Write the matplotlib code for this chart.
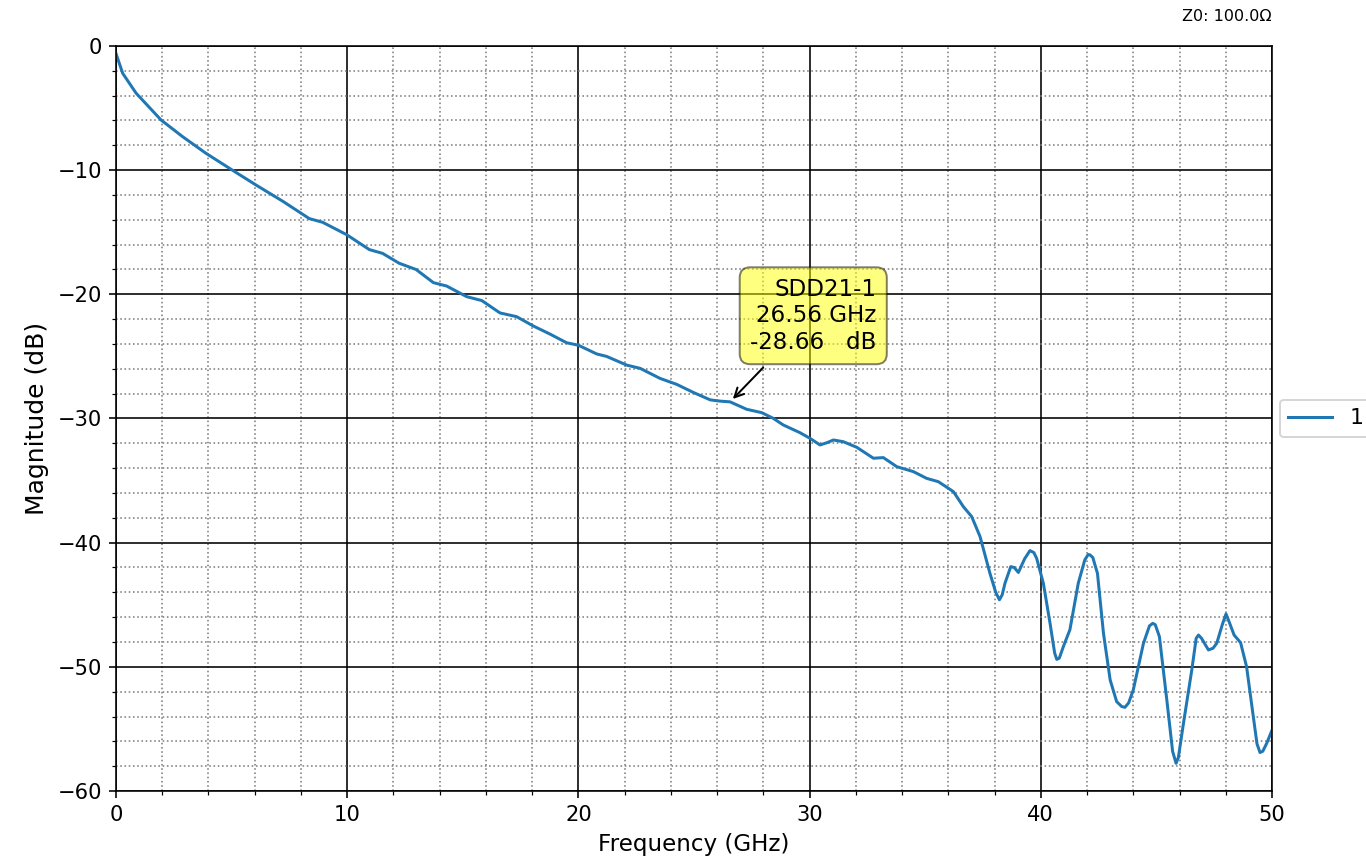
import matplotlib
matplotlib.use("Agg")
import matplotlib.pyplot as plt
from matplotlib.ticker import MultipleLocator

# SDD21 magnitude
freq_ghz = [0.0, 0.29, 0.87, 1.95, 2.88, 3.89, 5.12, 6.06, 7.21, 8.36, 8.94, 9.98,
            10.96, 11.53, 12.25, 12.98, 13.73, 14.3, 15.17, 15.82, 16.61, 17.33,
            18.05, 18.77, 19.49, 20.0, 20.79, 21.22, 22.09, 22.67, 23.53, 24.25,
            24.97, 25.7, 26.12, 26.56, 27.28, 27.93, 28.43, 28.86, 29.58, 30.02,
            30.45, 30.75, 31.03, 31.46, 32.04, 32.76, 33.19, 33.77, 34.49, 35.06,
            35.57, 36.22, 36.65, 37.01, 37.37, 37.8, 38.05, 38.21, 38.33, 38.45,
            38.7, 38.85, 39.03, 39.3, 39.53, 39.7, 39.82, 40.11, 40.4, 40.6,
            40.69, 40.8, 40.97, 41.26, 41.62, 41.9, 42.05, 42.13, 42.25, 42.45,
            42.71, 43.0, 43.28, 43.5, 43.64, 43.8, 44.0, 44.44, 44.7, 44.84,
            44.95, 45.13, 45.45, 45.7, 45.85, 45.95, 46.17, 46.53, 46.72, 46.82,
            46.95, 47.25, 47.45, 47.61, 47.85, 48.01, 48.15, 48.36, 48.64, 48.9,
            49.19, 49.35, 49.48, 49.6, 49.77, 50.0]
mag_db = [-0.6, -2.2, -3.8, -5.96, -7.3, -8.64, -10.1, -11.2, -12.5, -13.9, -14.2, -15.2,
          -16.4, -16.7, -17.5, -18.0, -19.06, -19.33, -20.19, -20.5, -21.5, -21.8,
          -22.55, -23.2, -23.9, -24.1, -24.8, -25.0, -25.7, -25.96, -26.77, -27.25,
          -27.9, -28.5, -28.6, -28.66, -29.26, -29.53, -29.99, -30.52, -31.14, -31.6,
          -32.13, -31.95, -31.73, -31.87, -32.32, -33.2, -33.15, -33.88, -34.28, -34.82,
          -35.09, -35.89, -37.1, -37.9, -39.5, -42.47, -44.0, -44.6, -44.2, -43.27,
          -41.93, -42.0, -42.4, -41.3, -40.64, -40.8, -41.26, -43.27, -46.5, -48.9,
          -49.4, -49.3, -48.4, -47.0, -43.27, -41.4, -40.95, -40.99, -41.2, -42.47,
          -47.3, -51.06, -52.8, -53.2, -53.26, -52.9, -51.86, -48.1, -46.7, -46.5,
          -46.6, -47.57, -52.67, -56.8, -57.77, -57.3, -54.55, -50.25, -47.7, -47.44,
          -47.7, -48.64, -48.5, -48.1, -46.6, -45.74, -46.4, -47.44, -48.05, -49.99,
          -54.0, -56.2, -56.9, -56.8, -56.16, -55.1]

marker_f = 26.56
marker_db = -28.66

fig = plt.figure(figsize=(1366 / 144, 866 / 144), dpi=144)
ax = fig.add_axes([0.0849, 0.0866, 0.8463, 0.8603])

ax.plot(freq_ghz, mag_db, color='#1f77b4', linewidth=1.5, label='1')

ax.set_xlim(0, 50)
ax.set_ylim(-60, 0)
ax.xaxis.set_major_locator(MultipleLocator(10))
ax.xaxis.set_minor_locator(MultipleLocator(2))
ax.yaxis.set_major_locator(MultipleLocator(10))
ax.yaxis.set_minor_locator(MultipleLocator(2))
ax.tick_params(which='major', labelsize=10.5)
ax.grid(which='major', color='black', linestyle='-', linewidth=0.8)
ax.grid(which='minor', color='0.5', linestyle=':', linewidth=0.8)
ax.set_xlabel('Frequency (GHz)', fontsize=11.5)
ax.set_ylabel('Magnitude (dB)', fontsize=12.5)

ax.text(1.0, 1.03, 'Z0: 100.0\u03a9', transform=ax.transAxes,
        ha='right', va='bottom', fontsize=8)

ax.annotate('SDD21-1\n%.2f GHz\n%.2f   dB' % (marker_f, marker_db),
            xy=(marker_f, marker_db), xytext=(10, 24), textcoords='offset points',
            ha='left', va='bottom', multialignment='right', fontsize=11.5,
            bbox=dict(boxstyle='round,pad=0.45', fc='yellow', alpha=0.5),
            arrowprops=dict(arrowstyle='->', connectionstyle='arc3', color='black'))

ax.legend(loc='center left', bbox_to_anchor=(0.997, 0.5), fontsize=11)

fig.savefig('out.png', dpi=144)
